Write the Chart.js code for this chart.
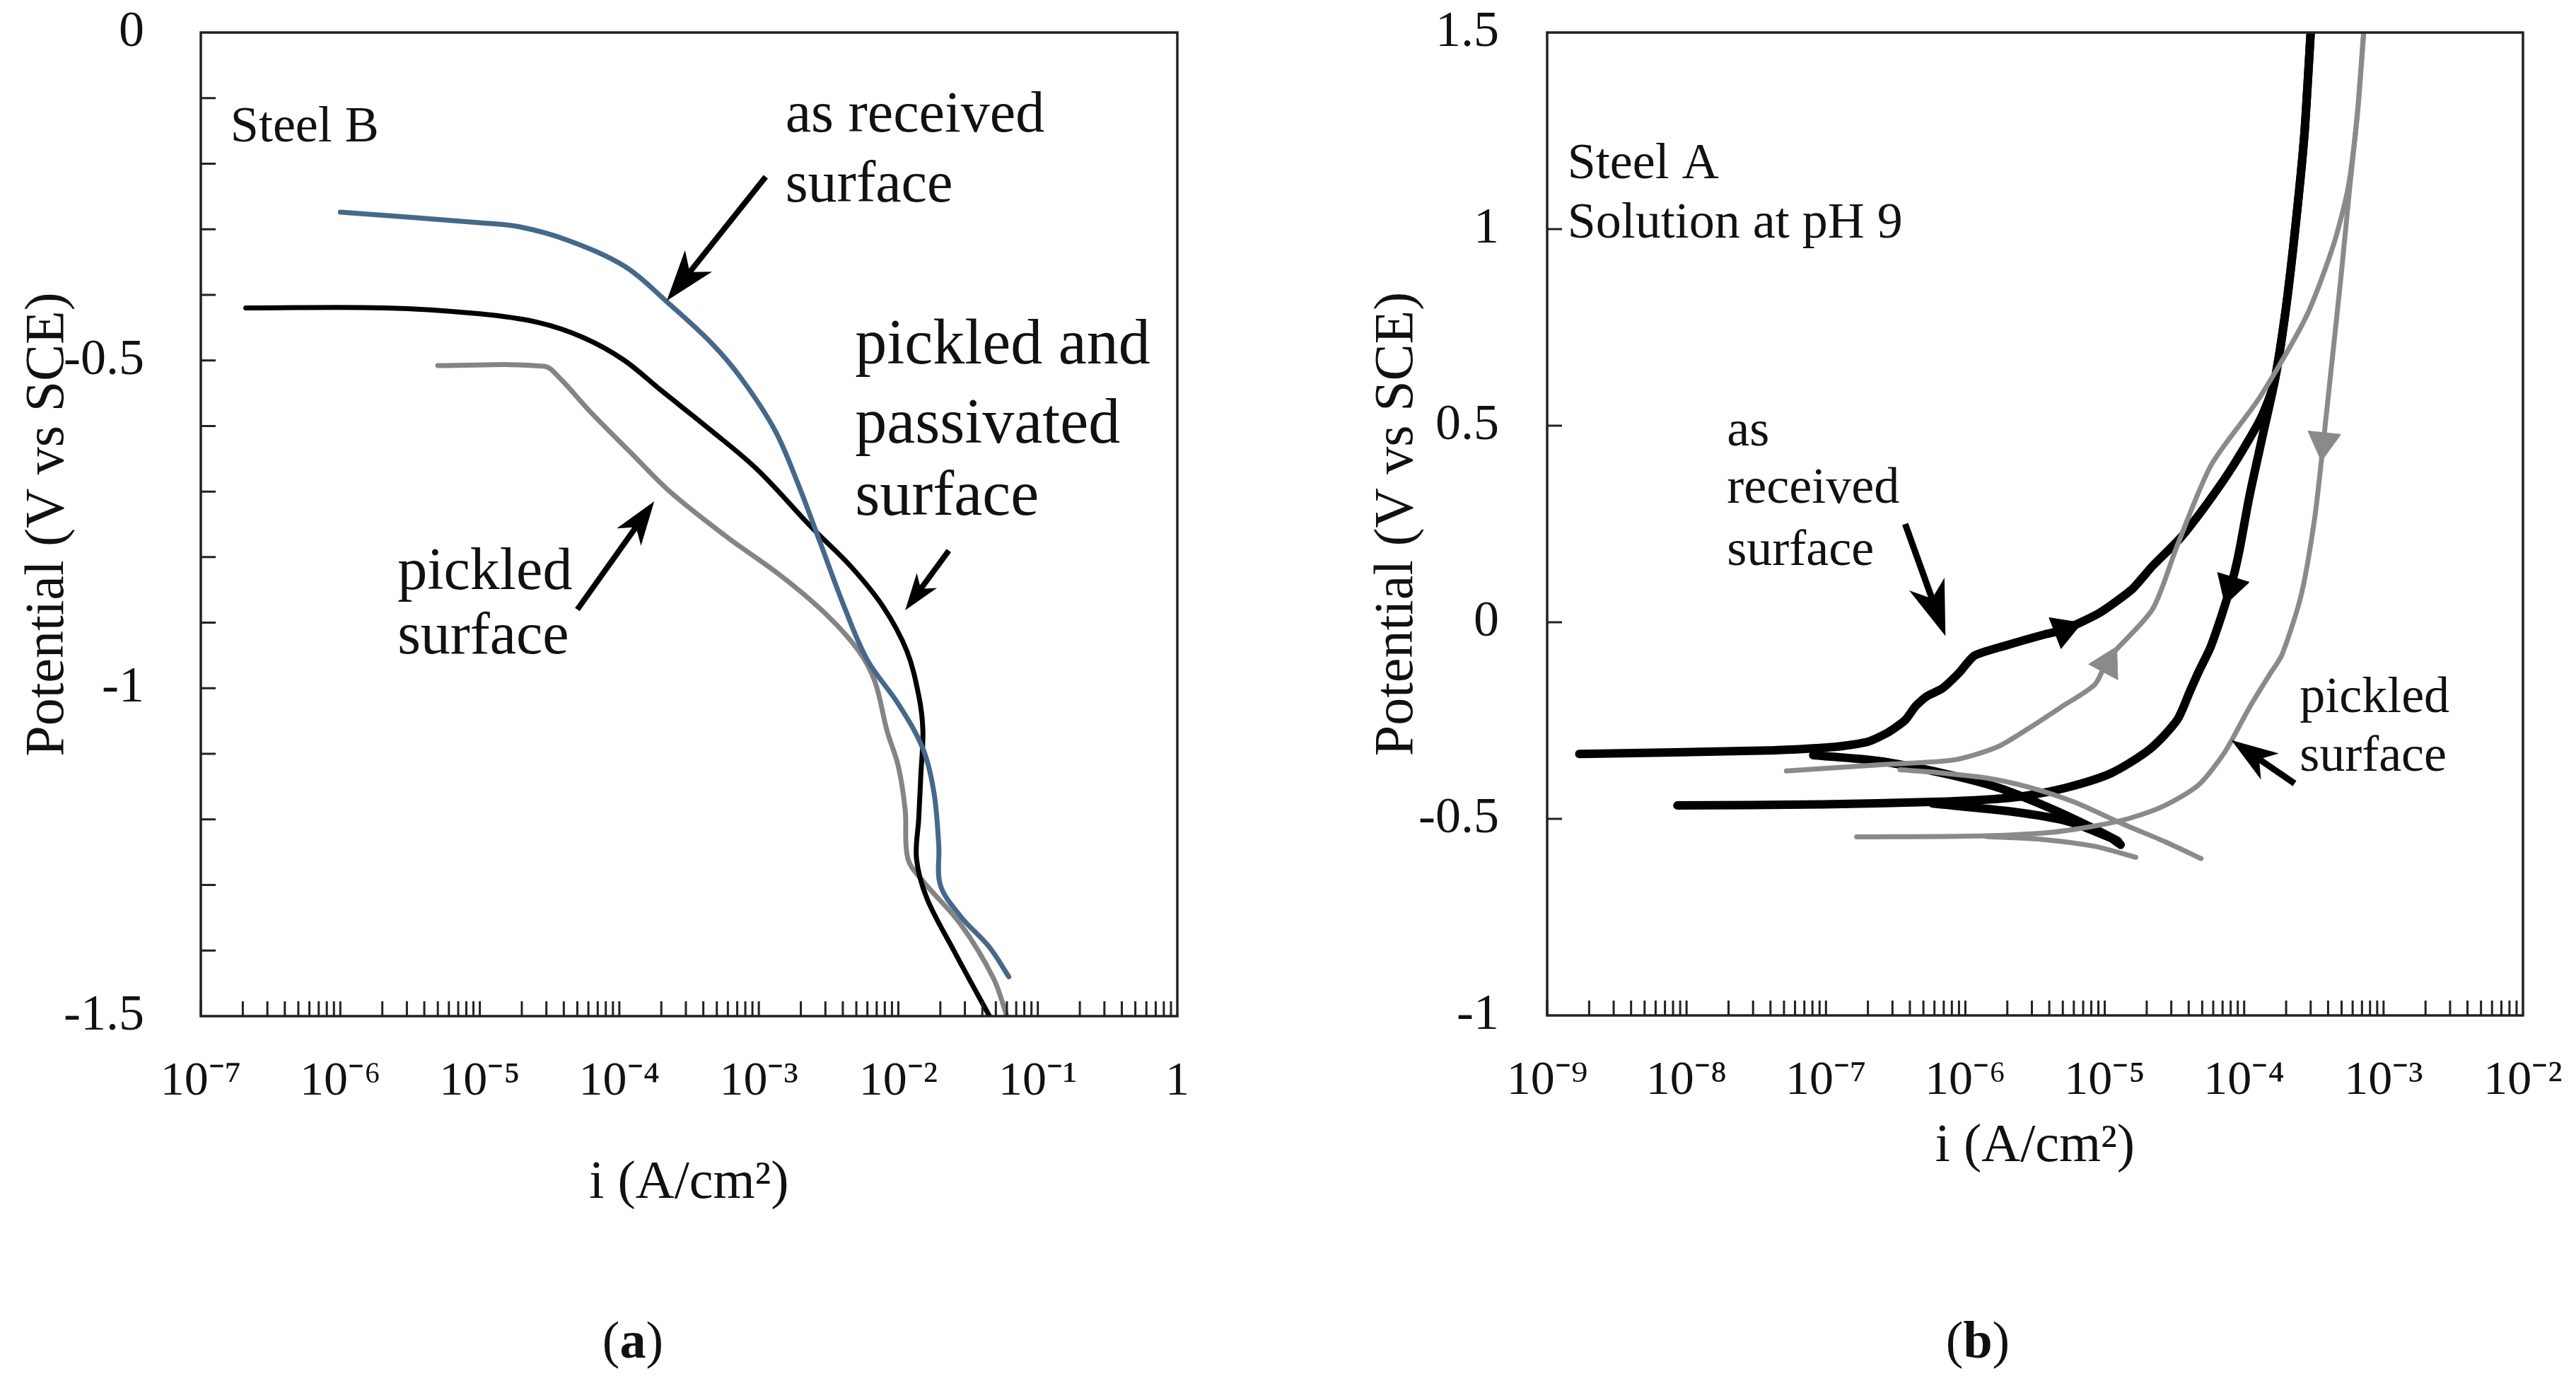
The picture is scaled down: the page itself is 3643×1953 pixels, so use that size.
<!DOCTYPE html>
<html>
<head>
<meta charset="utf-8">
<script src="https://cdn.jsdelivr.net/npm/chart.js@4.4.1/dist/chart.umd.min.js"></script>
<style>
  html, body { margin: 0; padding: 0; background: #fff; }
  body { width: 3643px; height: 1953px; position: relative; overflow: hidden; font-family: "Liberation Serif", serif; }
  canvas { position: absolute; top: 0; }
  #chartA { left: 0; }
  #chartB { left: 1822px; }
  .tag { position: absolute; top: 1858px; font-size: 74px; line-height: 1; color: #111; transform: translateX(-50%); }
</style>
</head>
<body>
<canvas id="chartA" width="1800" height="1800"></canvas>
<canvas id="chartB" width="1821" height="1800"></canvas>
<div class="tag" style="left:895px">(<b>a</b>)</div>
<div class="tag" style="left:2797px">(<b>b</b>)</div>
<script>
// ---- (a) Steel B : current density i (A/cm2) vs potential E (V vs SCE)
const steelB_asReceived_i = [1.0e-6, 1.0e-5, 1.9e-5, 4.3e-5, 1.1e-4, 2.2e-4, 4.5e-4, 7.4e-4, 1.3e-3, 1.9e-3, 2.8e-3, 4.1e-3, 6.0e-3, 1.0e-2, 1.5e-2, 1.8e-2, 1.95e-2, 2.0e-2, 2.8e-2, 4.5e-2, 6.2e-2];
const steelB_asReceived_E = [-0.274, -0.29, -0.296, -0.317, -0.357, -0.411, -0.472, -0.526, -0.606, -0.687, -0.782, -0.876, -0.957, -1.024, -1.092, -1.159, -1.24, -1.30, -1.348, -1.395, -1.44];

const steelB_passivated_i = [2.1e-7, 2.1e-6, 1.0e-5, 2.6e-5, 5.5e-5, 1.07e-4, 2.0e-4, 4.5e-4, 9.8e-4, 2.4e-3, 4.6e-3, 7.8e-3, 1.15e-2, 1.4e-2, 1.5e-2, 1.45e-2, 1.4e-2, 1.35e-2, 1.6e-2, 2.5e-2, 4.5e-2];
const steelB_passivated_E = [-0.42, -0.42, -0.429, -0.442, -0.465, -0.499, -0.546, -0.606, -0.667, -0.755, -0.815, -0.876, -0.943, -1.011, -1.065, -1.132, -1.199, -1.26, -1.32, -1.40, -1.50];

const steelB_pickled_i = [5.0e-6, 2.9e-5, 3.7e-5, 6.3e-5, 1.2e-4, 2.3e-4, 5.8e-4, 1.45e-3, 3.1e-3, 5.2e-3, 6.8e-3, 8.3e-3, 1.0e-2, 1.12e-2, 1.17e-2, 1.5e-2, 2.8e-2, 4.8e-2, 6.0e-2];
const steelB_pickled_E = [-0.508, -0.509, -0.526, -0.58, -0.64, -0.70, -0.768, -0.829, -0.889, -0.943, -0.99, -1.065, -1.119, -1.186, -1.26, -1.294, -1.36, -1.442, -1.50];

const ticksA_i = [1e-7, 1e-6, 1e-5, 1e-4, 1e-3, 1e-2, 1e-1, 1];
const ticksA_E = [-1.5, -1, -0.5, 0];

// ---- (b) Steel A, solution at pH 9 (cyclic scans)
const steelA_recFwd_i = [1.7e-9, 3.9e-8, 1.16e-7, 2.0e-7, 2.8e-7, 3.7e-7, 4.4e-7, 5.3e-7, 6.8e-7, 9.1e-7, 1.16e-6, 2.0e-6, 3.7e-6, 5.1e-6, 9.1e-6, 1.56e-5, 2.2e-5, 3.5e-5, 5.5e-5, 8.4e-5, 1.3e-4, 1.64e-4, 1.96e-4, 2.3e-4, 2.7e-4, 3.0e-4];
const steelA_recFwd_E = [-0.335, -0.326, -0.317, -0.304, -0.280, -0.249, -0.213, -0.188, -0.169, -0.127, -0.085, -0.058, -0.031, -0.019, 0.023, 0.083, 0.143, 0.215, 0.305, 0.40, 0.515, 0.607, 0.779, 0.986, 1.238, 1.5];

const steelA_recRev_i = [3.0e-4, 2.7e-4, 2.3e-4, 1.96e-4, 1.64e-4, 1.37e-4, 1.09e-4, 9.1e-5, 8.0e-5, 5.8e-5, 4.7e-5, 4.1e-5, 3.3e-5, 2.1e-5, 1.11e-5, 5.4e-6, 2.65e-6, 1.42e-6, 5.8e-7, 9.7e-8, 8.6e-9];
const steelA_recRev_E = [1.5, 1.238, 0.986, 0.779, 0.607, 0.481, 0.320, 0.171, 0.091, -0.059, -0.127, -0.174, -0.249, -0.323, -0.384, -0.420, -0.442, -0.451, -0.457, -0.463, -0.466];

const steelA_recCath1_i = [8.1e-8, 2.4e-7, 6.9e-7, 1.7e-6, 3.5e-6, 6.5e-6, 1.22e-5, 1.3e-5];
const steelA_recCath1_E = [-0.338, -0.353, -0.384, -0.420, -0.463, -0.506, -0.555, -0.566];
const steelA_recCath2_i = [5.8e-7, 2.2e-6, 5.4e-6, 1.11e-5, 1.25e-5];
const steelA_recCath2_E = [-0.461, -0.482, -0.506, -0.549, -0.562];

const steelA_pickFwd_i = [5.2e-8, 2.8e-7, 8.3e-7, 1.7e-6, 2.9e-6, 5.0e-6, 8.5e-6, 1.06e-5, 2.2e-5, 3.3e-5, 5.8e-5, 1.3e-4, 2.8e-4, 4.4e-4, 5.6e-4, 6.5e-4, 7.2e-4];
const steelA_pickFwd_E = [-0.378, -0.361, -0.350, -0.317, -0.268, -0.213, -0.158, -0.093, 0.033, 0.194, 0.40, 0.573, 0.779, 0.963, 1.11, 1.296, 1.5];

const steelA_pickRev_i = [7.2e-4, 6.5e-4, 5.7e-4, 5.0e-4, 4.2e-4, 3.7e-4, 3.2e-4, 2.56e-4, 1.87e-4, 1.51e-4, 1.09e-4, 7.3e-5, 4.7e-5, 2.7e-5, 1.46e-5, 8.5e-6, 4.2e-6, 1.42e-6, 1.66e-7];
const steelA_pickRev_E = [1.5, 1.296, 1.101, 0.894, 0.641, 0.458, 0.263, 0.068, -0.082, -0.135, -0.217, -0.329, -0.414, -0.466, -0.500, -0.518, -0.534, -0.543, -0.546];

const steelA_pickCath1_i = [3.4e-7, 5.8e-7, 1.42e-6, 2.9e-6, 6.0e-6, 1.33e-5, 2.7e-5, 4.9e-5];
const steelA_pickCath1_E = [-0.375, -0.381, -0.396, -0.420, -0.457, -0.512, -0.558, -0.601];
const steelA_pickCath2_i = [1.42e-6, 3.5e-6, 8.5e-6, 1.67e-5];
const steelA_pickCath2_E = [-0.545, -0.552, -0.570, -0.598];

// scan direction arrowheads sitting on the curves
const steelA_recDir_i = [5.1e-6, 8.0e-5];
const steelA_recDir_E = [-0.019, 0.091];
const steelA_pickDir_i = [1.05e-5, 3.7e-4];
const steelA_pickDir_E = [-0.105, 0.458];

const ticksB_i = [1e-9, 1e-8, 1e-7, 1e-6, 1e-5, 1e-4, 1e-3, 1e-2];
const ticksB_E = [-1, -0.5, 0, 0.5, 1, 1.5];

const FONT = '"Liberation Serif", "Times New Roman", serif';
const INK = '#111';
Chart.defaults.font.family = FONT;
Chart.defaults.color = INK;

const SUP = {'-': '\u207B', '0': '\u2070', '1': '\u00B9', '2': '\u00B2', '3': '\u00B3', '4': '\u2074', '5': '\u2075', '6': '\u2076', '7': '\u2077', '8': '\u2078', '9': '\u2079'};
function decadeLabel(v) {
    const e = Math.round(Math.log10(v));
    if (e === 0) return '1';
    return '10' + String(e).split('').map(c => SUP[c]).join('');
}

const pts = (xs, ys) => xs.map((v, k) => ({x: v, y: ys[k]}));

function curve(xs, ys, color, width, order, tension) {
    return {
        data: pts(xs, ys), showLine: true, fill: false,
        borderColor: color, borderWidth: width, tension: tension,
        borderCapStyle: 'round', borderJoinStyle: 'round',
        pointRadius: 0, order: order
    };
}

function heads(xs, ys, color, rot) {
    return {
        data: pts(xs, ys), showLine: false,
        pointStyle: 'triangle', pointRadius: 27, pointRotation: rot,
        backgroundColor: color, borderColor: color, borderWidth: 1, order: 0
    };
}

function drawArrow(ctx, x0, y0, x1, y1, w, L) {
    const ang = Math.atan2(y1 - y0, x1 - x0);
    const len = Math.hypot(x1 - x0, y1 - y0);
    const H = L * 0.34, N = L * 0.72;
    ctx.save();
    ctx.translate(x1, y1);
    ctx.rotate(ang);
    ctx.strokeStyle = '#000';
    ctx.fillStyle = '#000';
    ctx.lineWidth = w;
    ctx.lineCap = 'butt';
    ctx.beginPath();
    ctx.moveTo(-len, 0);
    ctx.lineTo(-N + 4, 0);
    ctx.stroke();
    ctx.beginPath();
    ctx.moveTo(0, 0);
    ctx.lineTo(-L, -H);
    ctx.lineTo(-N, 0);
    ctx.lineTo(-L, H);
    ctx.closePath();
    ctx.fill();
    ctx.restore();
}

// frame round the plot plus inward tick marks
function frameTicks(yStep) {
    return {
        id: 'frameTicks',
        afterDraw(chart) {
            const {ctx, chartArea: a, scales: {x, y}} = chart;
            const len = 21;
            ctx.save();
            ctx.strokeStyle = '#222';
            ctx.lineWidth = 3;
            ctx.beginPath();
            const e0 = Math.round(Math.log10(x.min)), e1 = Math.round(Math.log10(x.max));
            for (let e = e0; e < e1; e++) {
                for (let m = 1; m <= 9; m++) {
                    const px = x.getPixelForValue(m * Math.pow(10, e));
                    ctx.moveTo(px, a.bottom);
                    ctx.lineTo(px, a.bottom - len);
                }
            }
            const n = Math.round((y.max - y.min) / yStep);
            for (let k = 1; k < n; k++) {
                const py = y.getPixelForValue(y.min + k * yStep);
                ctx.moveTo(a.left, py);
                ctx.lineTo(a.left + len, py);
            }
            ctx.stroke();
            ctx.lineWidth = 3.5;
            ctx.strokeRect(a.left, a.top, a.right - a.left, a.bottom - a.top);
            ctx.restore();
        }
    };
}

function notes(texts, arrows, shaft) {
    return {
        id: 'notes',
        afterDatasetsDraw(chart) {
            const {ctx, scales: {x, y}} = chart;
            ctx.save();
            ctx.fillStyle = INK;
            ctx.textAlign = 'left';
            ctx.textBaseline = 'middle';
            texts.forEach(t => {
                ctx.font = t.size + 'px ' + FONT;
                ctx.fillText(t.text, x.getPixelForValue(t.x), y.getPixelForValue(t.y));
            });
            arrows.forEach(ar => drawArrow(ctx,
                x.getPixelForValue(ar.from[0]), y.getPixelForValue(ar.from[1]),
                x.getPixelForValue(ar.to[0]), y.getPixelForValue(ar.to[1]), shaft, ar.head));
            ctx.restore();
        }
    };
}

// fixed scale boxes so the plot frame lands where the figure has it
function fixBox(size, horizontal) {
    return s => {
        if (horizontal) s.height = size; else s.width = size;
        s.paddingTop = 0; s.paddingBottom = 0; s.paddingLeft = 0; s.paddingRight = 0;
    };
}

function axes(c) {
    return {
        x: {
            type: 'logarithmic', min: c.xMin, max: c.xMax,
            grid: {display: false, drawTicks: false}, border: {display: false},
            afterBuildTicks: s => { s.ticks = c.xTicks.map(v => ({value: v})); },
            afterFit: fixBox(c.xHeight, true),
            ticks: {font: {size: 68}, padding: 52, maxRotation: 0, autoSkip: false, callback: v => decadeLabel(v)},
            title: {display: true, text: 'i (A/cm\u00B2)', font: {size: 76}, padding: {top: 0, bottom: c.xTitlePad}}
        },
        y: {
            type: 'linear', min: c.yMin, max: c.yMax,
            grid: {display: false, drawTicks: false}, border: {display: false},
            afterBuildTicks: s => { s.ticks = c.yTicks.map(v => ({value: v})); },
            afterFit: fixBox(c.yWidth, false),
            ticks: {font: {size: 72}, padding: c.yPad, callback: v => String(v)},
            title: {display: true, text: 'Potential (V vs SCE)', font: {size: 78}, padding: {top: c.yTitlePad, bottom: 0}}
        }
    };
}

const base = {
    responsive: false, animation: false, devicePixelRatio: 1, events: [],
    plugins: {legend: {display: false}, tooltip: {enabled: false}}
};

const BLUE = '#46688a', GREY_A = '#858385', GREY_B = '#8a8a8a';

new Chart(document.getElementById('chartA'), {
    type: 'scatter',
    data: {datasets: [
        curve(steelB_asReceived_i, steelB_asReceived_E, BLUE, 7, 1, 0.35),
        curve(steelB_passivated_i, steelB_passivated_E, '#000', 7, 2, 0.35),
        curve(steelB_pickled_i, steelB_pickled_E, GREY_A, 7, 3, 0.35)
    ]},
    options: Object.assign({}, base, {
        layout: {padding: {left: 0, top: 46, right: 135, bottom: 0}},
        scales: axes({xMin: 1e-7, xMax: 1, yMin: -1.5, yMax: 0, xTicks: ticksA_i, yTicks: ticksA_E,
            xHeight: 363, yWidth: 284, yPad: 80, xTitlePad: 80, yTitlePad: 22})
    }),
    plugins: [frameTicks(0.1), notes([
        {text: 'Steel B', x: 1.63e-7, y: -0.146, size: 72},
        {text: 'as received', x: 1.55e-3, y: -0.128, size: 82},
        {text: 'surface', x: 1.55e-3, y: -0.234, size: 82},
        {text: 'pickled and', x: 4.9e-3, y: -0.479, size: 90},
        {text: 'passivated', x: 4.9e-3, y: -0.60, size: 90},
        {text: 'surface', x: 4.9e-3, y: -0.71, size: 90},
        {text: 'pickled', x: 2.57e-6, y: -0.825, size: 84},
        {text: 'surface', x: 2.57e-6, y: -0.923, size: 84}
    ], [
        {from: [1.12e-3, -0.22], to: [2.19e-4, -0.409], head: 72},
        {from: [2.3e-2, -0.79], to: [1.12e-2, -0.881], head: 52},
        {from: [5.0e-5, -0.88], to: [1.78e-4, -0.715], head: 62}
    ], 8)]
});

new Chart(document.getElementById('chartB'), {
    type: 'scatter',
    data: {datasets: [
        heads(steelA_recDir_i, steelA_recDir_E, '#000', [69, 197]),
        heads(steelA_pickDir_i, steelA_pickDir_E, GREY_B, [28, 186]),
        curve(steelA_pickFwd_i, steelA_pickFwd_E, GREY_B, 7, 1, 0.25),
        curve(steelA_pickRev_i, steelA_pickRev_E, GREY_B, 7, 1, 0.25),
        curve(steelA_pickCath1_i, steelA_pickCath1_E, GREY_B, 7, 1, 0.25),
        curve(steelA_pickCath2_i, steelA_pickCath2_E, GREY_B, 7, 1, 0.25),
        curve(steelA_recFwd_i, steelA_recFwd_E, '#000', 12, 2, 0.2),
        curve(steelA_recRev_i, steelA_recRev_E, '#000', 12, 2, 0.25),
        curve(steelA_recCath1_i, steelA_recCath1_E, '#000', 12, 2, 0.25),
        curve(steelA_recCath2_i, steelA_recCath2_E, '#000', 12, 2, 0.25)
    ]},
    options: Object.assign({}, base, {
        layout: {padding: {left: 0, top: 46, right: 75, bottom: 0}},
        scales: axes({xMin: 1e-9, xMax: 1e-2, yMin: -1, yMax: 1.5, xTicks: ticksB_i, yTicks: ticksB_E,
            xHeight: 364, yWidth: 366, yPad: 68, xTitlePad: 132, yTitlePad: 108})
    }),
    plugins: [frameTicks(0.5), notes([
        {text: 'Steel A', x: 1.4e-9, y: 1.163, size: 72},
        {text: 'Solution at pH 9', x: 1.4e-9, y: 1.012, size: 72},
        {text: 'as', x: 1.95e-8, y: 0.484, size: 72},
        {text: 'received', x: 1.95e-8, y: 0.338, size: 72},
        {text: 'surface', x: 1.95e-8, y: 0.18, size: 72},
        {text: 'pickled', x: 2.5e-4, y: -0.195, size: 72},
        {text: 'surface', x: 2.5e-4, y: -0.343, size: 72}
    ], [
        {from: [3.7e-7, 0.25], to: [7.2e-7, -0.035], head: 78},
        {from: [2.3e-4, -0.41], to: [8.1e-5, -0.30], head: 66}
    ], 9)]
});
</script>
</body>
</html>
